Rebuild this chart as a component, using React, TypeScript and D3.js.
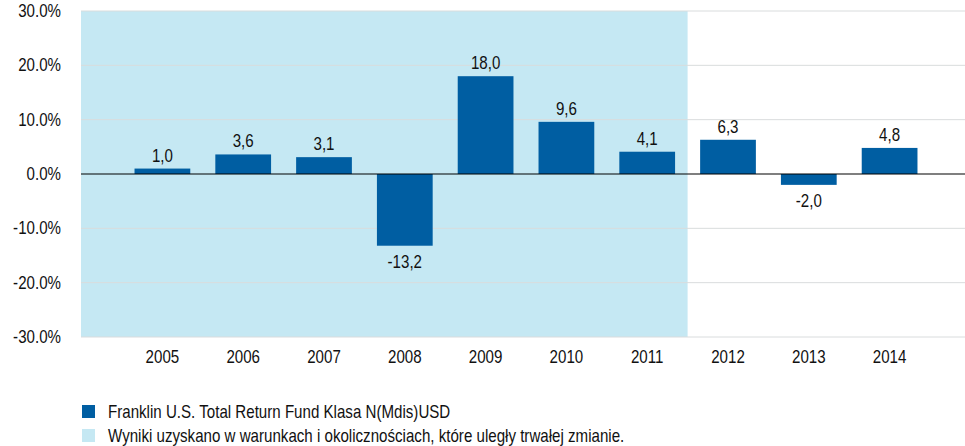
import React from "react";
import * as d3 from "d3";

const years = ["2005", "2006", "2007", "2008", "2009", "2010", "2011", "2012", "2013", "2014"];
const returns = [1.0, 3.6, 3.1, -13.2, 18.0, 9.6, 4.1, 6.3, -2.0, 4.8];
const yTicks = [30, 20, 10, 0, -10, -20, -30];
const shadedUntil = "2011";
const legendItems = [
  { label: "Franklin U.S. Total Return Fund Klasa N(Mdis)USD", color: "#005ea2" },
  { label: "Wyniki uzyskano w warunkach i okolicznościach, które uległy trwałej zmianie.", color: "#c5e8f3" },
];

const W = 965;
const H = 446;
const left = 81;
const right = 965;
const top = 11;
const bottom = 337;
const font = "'Liberation Sans', Arial, sans-serif";
const SX = 0.84;
const FS = 18;

function T(props: { x: number; y: number; anchor?: string; children: React.ReactNode }) {
  return (
    <text
      transform={`translate(${props.x},${props.y}) scale(${SX},1)`}
      textAnchor={props.anchor || "start"}
      fontSize={FS}
      fill="#111"
    >
      {props.children}
    </text>
  );
}

export default function App() {
  const x = d3.scaleBand<string>().domain(years).range([122, 930]).paddingInner(0.31).paddingOuter(0.155);
  const y = d3.scaleLinear().domain([-30, 30]).range([bottom, top]);
  const fmt = (v: number) => v.toFixed(1).replace(".", ",");
  const shadeEnd = (x(shadedUntil) as number) + x.bandwidth() + (x.step() - x.bandwidth()) / 2;

  return (
    <svg width={W} height={H} style={{ position: "absolute", left: 0, top: 0 }} fontFamily={font}>
      <rect x={left} y={top} width={shadeEnd - left} height={bottom - top} fill="#c5e8f3" />
      {yTicks.map((t) => (
        <g key={t}>
          {t !== 0 && (
            <line x1={left} x2={right} y1={y(t)} y2={y(t)} stroke="#d9dcdd" strokeWidth={1} />
          )}
          <T x={61} y={y(t) + 6} anchor="end">
            {t.toFixed(1) + "%"}
          </T>
        </g>
      ))}
      {years.map((yr, i) => {
        const v = returns[i];
        const bx = x(yr) as number;
        const y0 = y(0);
        const y1 = y(v);
        const cx = bx + x.bandwidth() / 2;
        return (
          <g key={yr}>
            <rect x={bx} y={Math.min(y0, y1)} width={x.bandwidth()} height={Math.abs(y1 - y0)} fill="#005ea2" />
            <T x={cx} y={v >= 0 ? y1 - 7 : y1 + 22} anchor="middle">
              {fmt(v)}
            </T>
            <T x={cx} y={363} anchor="middle">
              {yr}
            </T>
          </g>
        );
      })}
      <line x1={left} x2={right} y1={y(0)} y2={y(0)} stroke="#000" strokeWidth={1.2} />
      {legendItems.map((item, i) => (
        <g key={i} transform={`translate(82, ${405 + i * 24})`}>
          <rect x={0} y={0} width={13} height={13} fill={item.color} />
          <T x={26} y={13}>
            {item.label}
          </T>
        </g>
      ))}
    </svg>
  );
}
